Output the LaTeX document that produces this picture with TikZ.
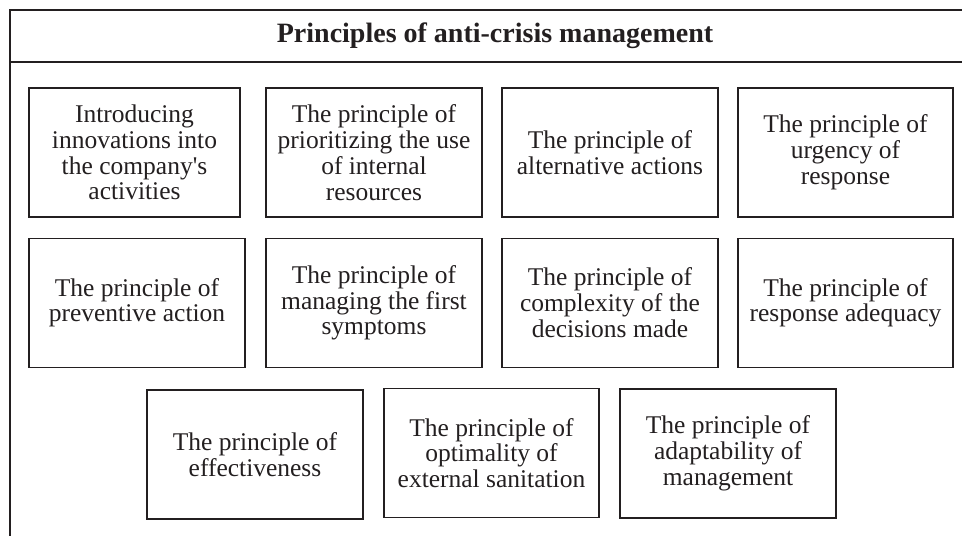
\documentclass[tikz,border=0pt]{standalone}
\usepackage{fontspec}
\setmainfont{Liberation Serif}
\definecolor{ink}{HTML}{231F20}
\begin{document}
\begin{tikzpicture}[x=1pt,y=-1pt,
  pbox/.style={draw=ink, line width=1.5pt, inner sep=0pt, outer sep=0pt,
    align=center, text=ink, font=\fontsize{25.5}{25.8}\selectfont,
    minimum height=129pt},
  frame/.style={draw=ink, line width=2pt}]
\useasboundingbox (0,0) rectangle (962,536);
% outer frame and title band
\draw[frame] (962,10.3) -- (10.3,10.3) -- (10.3,536);
\draw[frame] (10.3,62.3) -- (962,62.3);
\node[text=ink, font=\fontsize{28}{28}\selectfont\bfseries] (title) at (495,36) {Principles of anti-crisis management};
% row 1
\node[pbox, minimum width=211pt] (b1) at (134.5,152.5) {Introducing\\innovations into\\the company\textquotesingle s\\activities};
\node[pbox, minimum width=216pt] (b2) at (374,152.5) {The principle of\\prioritizing the use\\of internal\\resources};
\node[pbox, minimum width=216pt] (b3) at (610,152.5) {The principle of\\alternative actions};
\node[pbox, minimum width=215pt] (b4) at (845.5,152.5) {The principle of\\urgency of\\response};
% row 2
\node[pbox, minimum width=216pt] (b5) at (137,302.8) {The principle of\\preventive action};
\node[pbox, minimum width=216pt] (b6) at (374,302.8) {The principle of\\managing the first\\symptoms};
\node[pbox, minimum width=216pt] (b7) at (610,302.8) {The principle of\\complexity of the\\decisions made};
\node[pbox, minimum width=215pt] (b8) at (845.5,302.8) {The principle of\\response adequacy};
% row 3
\node[pbox, minimum width=216pt] (b9) at (255,454.5) {The principle of\\effectiveness};
\node[pbox, minimum width=215pt] (b10) at (491.5,453) {The principle of\\optimality of\\external sanitation};
\node[pbox, minimum width=216pt] (b11) at (728,453.5) {The principle of\\adaptability of\\management};
\end{tikzpicture}
\end{document}
